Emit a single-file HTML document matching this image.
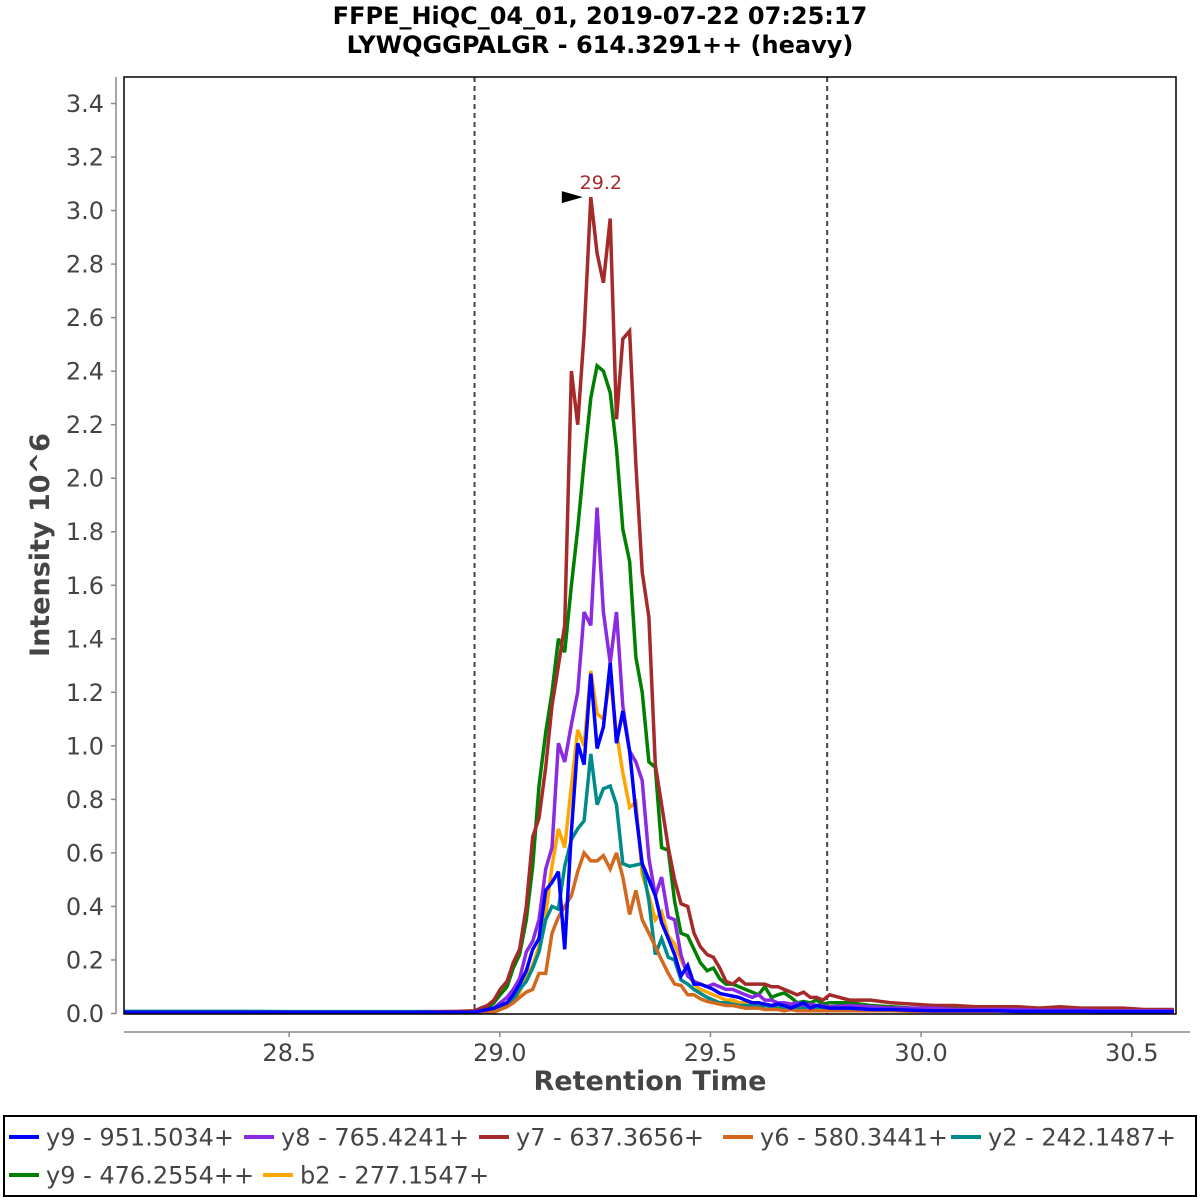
<!DOCTYPE html>
<html><head><meta charset="utf-8">
<style>
html,body{margin:0;padding:0;background:#fff;}
svg{display:block;font-family:"DejaVu Sans","Liberation Sans",sans-serif;}
</style></head>
<body>
<svg id="chart" width="1200" height="1200" viewBox="0 0 1200 1200">
  <rect x="0" y="0" width="1200" height="1200" fill="#fff"/>
  <text x="600" y="24" text-anchor="middle" font-size="24" font-weight="bold" fill="#000">FFPE_HiQC_04_01, 2019-07-22 07:25:17</text>
  <text x="600" y="53" text-anchor="middle" font-size="24" font-weight="bold" fill="#000">LYWQGGPALGR - 614.3291++ (heavy)</text>
  <g id="axes"></g>
  <g id="plot"></g>
  <rect x="124" y="77" width="1052" height="937" fill="none" stroke="#000" stroke-width="1.5"/>
  <text transform="translate(49,545) rotate(-90)" text-anchor="middle" font-size="27" font-weight="bold" fill="#444">Intensity 10^6</text>
  <text x="650" y="1090" text-anchor="middle" font-size="27" font-weight="bold" fill="#444">Retention Time</text>
  <rect x="4" y="1116" width="1192" height="80" fill="#fff" stroke="#000" stroke-width="2"/>
  <g id="legend"></g>
</svg>
<script>
const xTicks = [28.5, 29.0, 29.5, 30.0, 30.5];
const xTickLabels = ["28.5","29.0","29.5","30.0","30.5"];
const yTicks = [0,0.2,0.4,0.6,0.8,1.0,1.2,1.4,1.6,1.8,2.0,2.2,2.4,2.6,2.8,3.0,3.2,3.4];
const yTickLabels = ["0.0","0.2","0.4","0.6","0.8","1.0","1.2","1.4","1.6","1.8","2.0","2.2","2.4","2.6","2.8","3.0","3.2","3.4"];
const boundaryTimes = [28.94, 29.777];
const peakTime = [29.216];
const peakValue = [3.05];
const peakLabel = ["29.2"];

const times = [28.11,28.2,28.3,28.4,28.5,28.6,28.7,28.8,28.9,
28.940,28.955,28.971,28.986,29.001,29.017,29.032,29.047,29.063,29.078,29.093,29.109,29.124,29.139,29.154,29.170,29.185,29.200,29.216,29.231,29.246,29.262,29.277,29.292,29.308,29.323,29.338,29.354,29.369,29.384,29.400,29.415,29.430,29.446,29.461,29.476,29.492,29.507,29.522,29.537,29.553,29.568,29.583,29.599,29.614,29.629,29.645,29.660,29.675,29.691,29.706,29.721,29.737,29.752,29.767,29.783,
29.83,29.88,29.93,29.98,30.03,30.08,30.13,30.18,30.23,30.28,30.33,30.38,30.43,30.48,30.53,30.6];

const seriesNames = ["y9 - 951.5034+","y8 - 765.4241+","y7 - 637.3656+","y6 - 580.3441+","y2 - 242.1487+","y9 - 476.2554++","b2 - 277.1547+"];
const seriesColors = ["#0000ff","#8a2be2","#a52a2a","#d2691e","#008b8b","#008000","#ffa500"];

const y9 = [0.005,0.005,0.005,0.005,0.005,0.005,0.005,0.005,0.005,
0.005,0.01,0.015,0.02,0.03,0.04,0.07,0.11,0.16,0.24,0.28,0.46,0.49,0.53,0.24,
0.68,1.01,0.93,1.27,0.99,1.07,1.31,1.01,1.13,0.98,
0.75,0.56,0.50,0.44,0.34,0.28,0.22,0.14,0.18,0.11,0.11,0.10,0.09,0.075,0.07,0.065,0.06,0.05,0.04,0.04,0.035,0.03,0.035,0.03,0.02,0.03,0.04,0.02,0.03,0.025,0.02,
0.02,0.015,0.015,0.012,0.01,0.01,0.01,0.01,0.008,0.008,0.008,0.008,0.007,0.007,0.007,0.007];
const y8 = [0.005,0.005,0.005,0.005,0.005,0.005,0.005,0.005,0.005,
0.005,0.01,0.015,0.02,0.04,0.06,0.09,0.13,0.23,0.27,0.35,0.54,0.62,1.01,0.94,
1.08,1.20,1.50,1.45,1.89,1.50,1.31,1.50,1.15,0.98,
0.94,0.87,0.58,0.44,0.51,0.36,0.35,0.22,0.14,0.12,0.11,0.10,0.11,0.10,0.09,0.09,0.08,0.07,0.06,0.07,0.05,0.05,0.04,0.04,0.035,0.04,0.03,0.035,0.03,0.03,0.025,
0.03,0.025,0.02,0.02,0.02,0.015,0.015,0.015,0.015,0.012,0.012,0.012,0.01,0.01,0.01,0.01];
const y7 = [0.005,0.005,0.005,0.005,0.005,0.005,0.005,0.005,0.008,
0.01,0.02,0.03,0.05,0.09,0.12,0.19,0.24,0.40,0.66,0.73,0.92,1.15,1.30,1.45,
2.40,2.20,2.54,3.05,2.84,2.73,2.97,2.22,2.52,2.55,
2.05,1.65,1.48,0.93,0.78,0.62,0.50,0.41,0.40,0.30,0.25,0.22,0.21,0.17,0.12,0.11,0.13,0.11,0.11,0.11,0.11,0.10,0.10,0.09,0.08,0.07,0.08,0.06,0.06,0.05,0.07,
0.05,0.05,0.04,0.035,0.03,0.03,0.025,0.025,0.025,0.02,0.025,0.02,0.02,0.02,0.015,0.015];
const y6 = [0.003,0.003,0.003,0.003,0.003,0.003,0.003,0.003,0.003,
0.003,0.003,0.005,0.005,0.015,0.025,0.04,0.06,0.08,0.09,0.15,0.15,0.30,0.36,0.40,
0.44,0.53,0.60,0.57,0.57,0.59,0.54,0.60,0.51,0.37,
0.46,0.35,0.30,0.25,0.20,0.15,0.11,0.105,0.07,0.07,0.055,0.045,0.04,0.035,0.03,0.03,0.025,0.02,0.02,0.02,0.015,0.015,0.015,0.01,0.015,0.01,0.01,0.01,0.01,0.01,0.01,
0.01,0.01,0.01,0.008,0.008,0.008,0.008,0.008,0.007,0.007,0.007,0.007,0.006,0.006,0.006,0.006];
const y2 = [0.008,0.008,0.008,0.008,0.007,0.007,0.007,0.007,0.007,
0.005,0.005,0.01,0.015,0.02,0.03,0.05,0.09,0.12,0.17,0.23,0.35,0.40,0.39,0.55,
0.65,0.69,0.72,0.97,0.78,0.84,0.85,0.78,0.56,0.55,
0.555,0.56,0.42,0.22,0.28,0.21,0.20,0.125,0.11,0.09,0.075,0.06,0.05,0.04,0.04,0.035,0.03,0.03,0.03,0.025,0.03,0.025,0.02,0.02,0.025,0.02,0.02,0.015,0.02,0.02,0.015,
0.015,0.015,0.012,0.012,0.01,0.01,0.01,0.01,0.01,0.01,0.01,0.01,0.01,0.01,0.01,0.01];
const y9pp = [0.005,0.005,0.005,0.005,0.005,0.005,0.005,0.005,0.005,
0.005,0.01,0.02,0.04,0.07,0.10,0.17,0.22,0.35,0.55,0.85,1.05,1.20,1.40,1.35,
1.60,1.81,2.06,2.30,2.42,2.40,2.32,2.11,1.81,1.69,
1.33,1.20,0.94,0.92,0.62,0.61,0.42,0.30,0.29,0.24,0.19,0.16,0.17,0.13,0.11,0.11,0.10,0.09,0.08,0.07,0.10,0.06,0.07,0.077,0.06,0.04,0.045,0.04,0.05,0.035,0.04,
0.04,0.03,0.025,0.02,0.02,0.025,0.02,0.02,0.02,0.015,0.015,0.015,0.012,0.012,0.01,0.01];
const b2 = [0.005,0.005,0.005,0.005,0.005,0.005,0.005,0.005,0.005,
0.005,0.005,0.01,0.015,0.02,0.03,0.05,0.08,0.14,0.18,0.25,0.37,0.55,0.69,0.62,
0.85,1.06,1.00,1.28,1.12,1.10,1.25,1.05,0.90,0.77,
0.79,0.52,0.44,0.35,0.38,0.29,0.26,0.20,0.15,0.11,0.09,0.08,0.07,0.06,0.05,0.05,0.04,0.04,0.04,0.035,0.03,0.03,0.03,0.025,0.03,0.02,0.025,0.02,0.02,0.02,0.02,
0.015,0.015,0.012,0.012,0.01,0.01,0.01,0.01,0.01,0.01,0.01,0.01,0.01,0.01,0.01,0.01];
const seriesValues = [y9, y8, y7, y6, y2, y9pp, b2];

const NS = "http://www.w3.org/2000/svg";
const X0 = 124, X1 = 1176, Y0 = 77, Y1 = 1014;
const xMin = 28.108, xMax = 30.605, yMin = 0;
function xScale(t){ return X0 + (t - xMin) / (xMax - xMin) * (X1 - X0); }
function yScale(v){ return 1013.5 - (v - yMin) / (3.4 - yMin) * (1013.5 - 103.5); }
function mk(tag, attrs, parent){ const e = document.createElementNS(NS, tag); for (const k in attrs) e.setAttribute(k, attrs[k]); parent.appendChild(e); return e; }

const axes = document.getElementById('axes');
const plot = document.getElementById('plot');
const legend = document.getElementById('legend');

const yAxisLine = mk('line', {x1:116, y1:Y0, x2:116, y2:Y1, stroke:'#888', 'stroke-width':1.5}, axes);


yTicks.forEach((v, i) => {
  const y = yScale(v);
  const tk = mk('line', {x1:111, y1:y, x2:116, y2:y, stroke:'#888', 'stroke-width':1.5}, axes);
  
  
  const lb = mk('text', {x:104, y:y+8.5, 'text-anchor':'end', 'font-size':24, fill:'#444'}, axes);
  lb.textContent = yTickLabels[i];
  
  
});
const xAxisLine = mk('line', {x1:X0, y1:1032, x2:X1+14, y2:1032, stroke:'#888', 'stroke-width':1.5}, axes);


xTicks.forEach((t, i) => {
  const x = xScale(t);
  const tk = mk('line', {x1:x, y1:1032, x2:x, y2:1037, stroke:'#888', 'stroke-width':1.5}, axes);
  
  
  const lb = mk('text', {x:x, y:1061, 'text-anchor':'middle', 'font-size':24, fill:'#444'}, axes);
  lb.textContent = xTickLabels[i];
  
  
});
boundaryTimes.forEach(t => {
  const x = xScale(t);
  const l = mk('line', {x1:x, y1:Y0, x2:x, y2:Y1, stroke:'#444', 'stroke-width':2, 'stroke-dasharray':'5,4'}, plot);
  
  
});
for (let s = seriesValues.length - 1; s >= 0; s--) {
  const vals = seriesValues[s];
  let d = '';
  for (let i = 0; i < times.length; i++) {
    d += (i ? 'L' : 'M') + xScale(times[i]).toFixed(1) + ',' + yScale(vals[i]).toFixed(1);
  }
  const p = mk('path', {d:d, fill:'none', stroke:seriesColors[s], 'stroke-width':3.5, 'stroke-linejoin':'miter', 'stroke-miterlimit':3}, plot);
  
  
}
{
  const px = xScale(peakTime[0]), py = yScale(peakValue[0]);
  const arr = mk('polygon', {points:(px-29)+','+(py-6)+' '+(px-8)+','+(py)+' '+(px-29)+','+(py+6), fill:'#000'}, plot);
  
  
  const lb = mk('text', {x:px+10, y:py-8, 'text-anchor':'middle', 'font-size':19, fill:'#a52a2a'}, plot);
  lb.textContent = peakLabel[0];
  
  
}
const legendPos = [[8,1137],[243,1137],[478,1137],[722,1137],[950,1137],[8,1175],[262,1175]];
seriesNames.forEach((n, i) => {
  const [lx, ly] = legendPos[i];
  const g = mk('g', {}, legend);
  
  
  mk('line', {x1:lx+1, y1:ly, x2:lx+31, y2:ly, stroke:seriesColors[i], 'stroke-width':4}, g);
  const t = mk('text', {x:lx+38, y:ly+8.5, 'font-size':24, fill:'#444'}, g);
  t.textContent = n;
});
</script>
</body></html>
